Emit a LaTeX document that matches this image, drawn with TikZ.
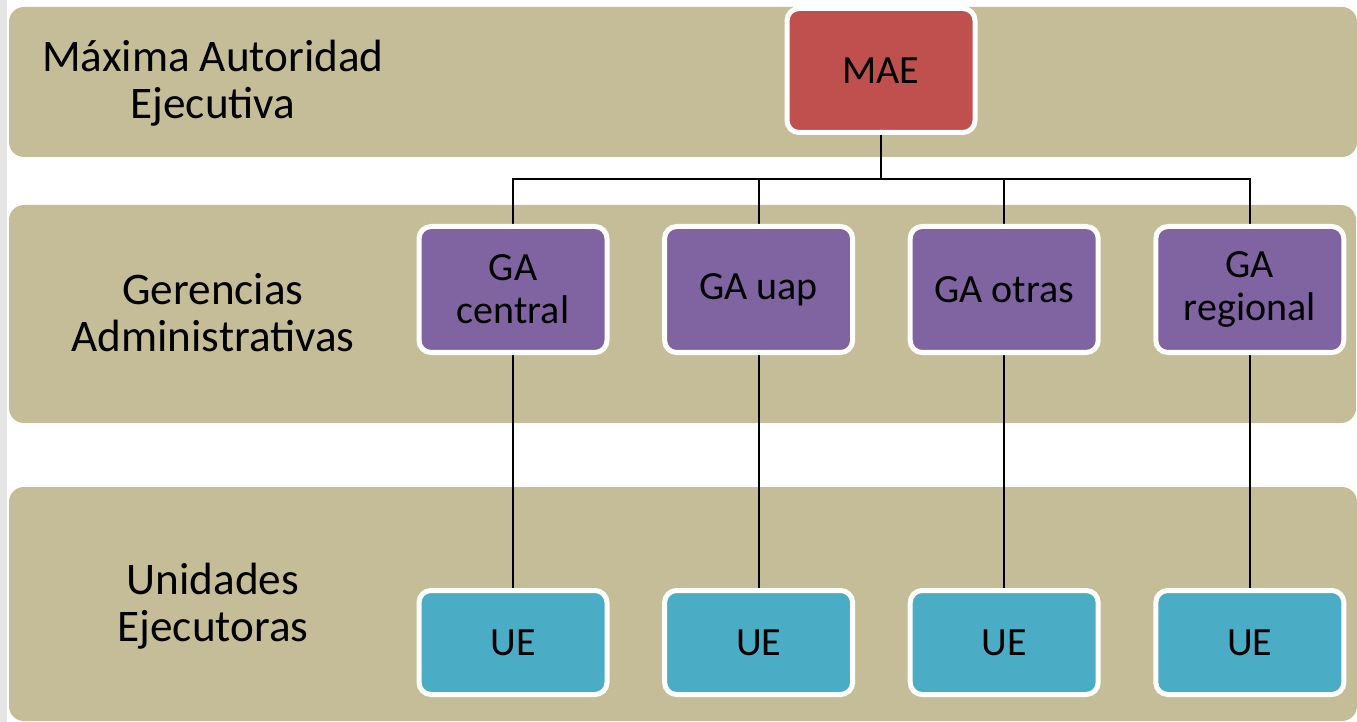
\documentclass[tikz,border=0pt]{standalone}
\usepackage{fontspec}
\setmainfont{Carlito}
\usetikzlibrary{positioning}
\pgfdeclarelayer{background}
\pgfdeclarelayer{wires}
\pgfsetlayers{background,wires,main}
\definecolor{bandtan}{HTML}{C4BD97}
\definecolor{maered}{HTML}{C0504D}
\definecolor{gapurple}{HTML}{8064A2}
\definecolor{ueblue}{HTML}{4BACC6}

\begin{document}
\begin{tikzpicture}[x=0.5pt, y=-0.5pt, box/.style={rectangle, rounded corners=6pt, draw=white, line width=2.5pt, minimum width=94pt, minimum height=63pt, inner sep=0pt, align=center, font=\fontsize{20}{21.5}\selectfont}, band/.style={fill=bandtan, rounded corners=7.5pt}, level/.style={align=center, font=\fontsize{22.6}{23.5}\selectfont}, wire/.style={line width=1pt}]
\useasboundingbox (0,0) rectangle (1357,722);
\begin{pgfonlayer}{background}
\fill[gray!20] (0,0) rectangle (7,722);
\fill[band] (9,7) rectangle (1357,157);
\fill[band] (9,205) rectangle (1356,423);
\fill[band] (9,487) rectangle (1357,721);
\end{pgfonlayer}

\node[level] (maxlabel) at (213,83) {Máxima Autoridad\\Ejecutiva};
\node[level] (gerlabel) at (213,313) {Gerencias\\Administrativas};
\node[level] (unilabel) at (213,606) {Unidades\\Ejecutoras};

\node[box, fill=maered, minimum height=62pt] (mae) at (881,70.5) {MAE};
\node[box, fill=gapurple] (gacentral) at (513,289.5) {GA\\central};
\node[box, fill=gapurple, right=26.3pt of gacentral] (gauap) {GA uap};
\node[box, fill=gapurple, right=26.3pt of gauap] (gaotras) {GA otras};
\node[box, fill=gapurple, right=26.3pt of gaotras] (garegional) {GA\\regional};
\node[box, fill=ueblue, minimum height=52pt, below=116.5pt of gacentral] (uecentral) {UE};
\node[box, fill=ueblue, minimum height=52pt, below=116.5pt of gauap] (ueuap) {UE};
\node[box, fill=ueblue, minimum height=52pt, below=116.5pt of gaotras] (ueotras) {UE};
\node[box, fill=ueblue, minimum height=52pt, below=116.5pt of garegional] (ueregional) {UE};

\coordinate (bus) at (881,179);
\begin{pgfonlayer}{wires}
\draw[wire] (mae.south) -- (bus);
\draw[wire] (gacentral.north) |- (bus);
\draw[wire] (gauap.north) |- (bus);
\draw[wire] (gaotras.north) |- (bus);
\draw[wire] (garegional.north) |- (bus);
\draw[wire] (gacentral.south) -- (uecentral.north);
\draw[wire] (gauap.south) -- (ueuap.north);
\draw[wire] (gaotras.south) -- (ueotras.north);
\draw[wire] (garegional.south) -- (ueregional.north);
\end{pgfonlayer}
\end{tikzpicture}
\end{document}
